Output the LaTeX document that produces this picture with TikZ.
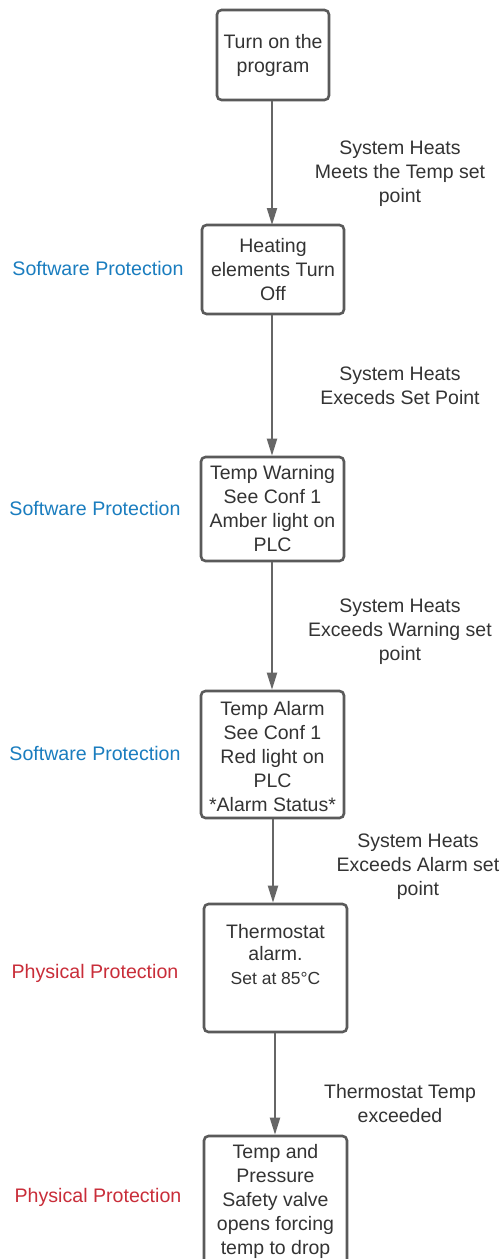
\documentclass[tikz,border=0pt]{standalone}
\usepackage{fontspec}
\setmainfont{Liberation Sans}
\usetikzlibrary{arrows.meta}
\definecolor{txt}{HTML}{333333}
\definecolor{boxline}{HTML}{5A5A5A}
\definecolor{arr}{HTML}{666666}
\definecolor{swblue}{HTML}{1A7DBF}
\definecolor{phred}{HTML}{C92D39}
\tikzset{
  stepbox/.style={draw=boxline, line width=2.6pt, rounded corners=4.5pt, fill=white,
    inner sep=0pt, align=center, text=txt,
    font=\fontsize{19.5}{24}\selectfont},
  cond/.style={align=center, text=txt, inner sep=0pt, font=\fontsize{19.5}{24}\selectfont},
  sw/.style={text=swblue, inner sep=0pt, font=\fontsize{19.6}{24}\selectfont},
  ph/.style={text=phred, inner sep=0pt, font=\fontsize{19.6}{24}\selectfont},
  flow/.style={draw=arr, line width=2pt, -{Triangle[length=17pt,width=10pt]}}
}
\begin{document}
\begin{tikzpicture}[x=1pt,y=-1pt]
\fill[white] (0,0) rectangle (503,1259);
\useasboundingbox (0,0) rectangle (503,1259);
\clip (0,0) rectangle (503,1259);

\node[stepbox, minimum width=112pt, minimum height=90pt] (b1) at (273,55) {\raisebox{-2pt}{Turn on the}\\\raisebox{-2pt}{program}};
\node[stepbox, minimum width=142pt, minimum height=89pt] (b2) at (273,269.5) {Heating\\elements Turn\\Off};
\node[stepbox, minimum width=143pt, minimum height=104pt] (b3) at (272.5,509) {Temp Warning\\See Conf 1\\Amber light on\\PLC};
\node[stepbox, minimum width=143pt, minimum height=127pt] (b4) at (272.5,754.5) {};
\node[cond] (b4t) at (272.5,757) {Temp Alarm\\See Conf 1\\Red light on\\PLC\\*Alarm Status*};
\node[stepbox, minimum width=143pt, minimum height=128pt] (b5) at (275.5,968) {};
\node[cond, anchor=north, yshift=-21pt] (b5t) at (b5.north) {Thermostat\\[-2pt]alarm.\\{\fontsize{17.5}{24}\selectfont Set at 85°C}};
\node[stepbox, minimum width=143pt, minimum height=130pt] (b6) at (275.5,1201) {Temp and\\Pressure\\Safety valve\\opens forcing\\temp to drop};

\draw[flow] (b1.south -| 272,0) -- (272,225);
\draw[flow] (b2.south -| 272,0) -- (b3.north -| 272,0);
\draw[flow] (b3.south -| 272,0) -- (b4.north -| 272,0);
\draw[flow] (b4.south -| 273,0) -- (b5.north -| 273,0);
\draw[flow] (b5.south -| 275,0) -- (b6.north -| 275,0);

\node[cond] (c1) at (400,174) {System Heats\\Meets the Temp set\\point};
\node[cond] (c2) at (400,386) {System Heats\\Execeds Set Point};
\node[cond] (c3) at (400,632) {System Heats\\Exceeds Warning set\\point};
\node[cond] (c4) at (418,867) {System Heats\\Exceeds Alarm set\\point};
\node[cond] (c5) at (400,1104) {Thermostat Temp\\exceeded};

\node[sw] (s1) at (98,268) {Software Protection};
\node[sw] (s2) at (95,508) {Software Protection};
\node[sw] (s3) at (95,753) {Software Protection};
\node[ph] (p1) at (95,973) {Physical Protection};
\node[ph] (p2) at (98,1197) {Physical Protection};
\end{tikzpicture}
\end{document}
